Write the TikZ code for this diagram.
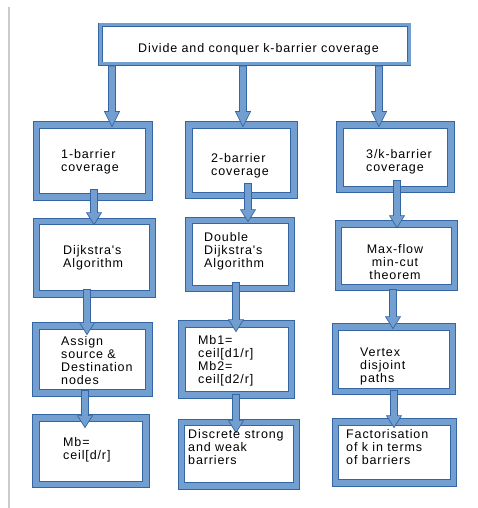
\documentclass[tikz,border=0pt]{standalone}
\usepackage{fontspec}
\setmainfont{Liberation Sans}[LetterSpace=7,Ligatures=TeXOff]
\usetikzlibrary{calc}
\definecolor{framefill}{HTML}{729FCF}
\definecolor{frameline}{HTML}{3465A4}
\newcommand{\barrow}[3][12]{%
  \filldraw[arrowbody] let \p1=#2, \p2=#3 in
    (\x1-3.5pt,\y1) -- (\x1+3.5pt,\y1) -- (\x1+3.5pt,\y2+#1pt) -- (\x1+7.5pt,\y2+#1pt)
    -- (\x1,\y2) -- (\x1-7.5pt,\y2+#1pt) -- (\x1-3.5pt,\y2+#1pt) -- cycle;}
\begin{document}
\begin{tikzpicture}[x=1pt,y=-1pt,
    boxframe/.style={draw=frameline,line width=0.8pt,double=framefill,double distance=5.6pt,fill=white,inner sep=0pt},
    topframe/.style={boxframe,double distance=3pt},
    lbl/.style={anchor=base west,align=left,inner sep=0pt,font=\fontsize{12.5}{13.3}\selectfont},
    arrowbody/.style={fill=framefill,draw=frameline,line width=0.7pt}]

            \useasboundingbox (0,0) rectangle (478,508);
            \draw[black!20, line width=1.2pt] (9,7) -- (9,508);

            \node[topframe,minimum width=308.5pt,minimum height=39pt] (top) at (254.75,44.5) {};

            \node[boxframe,minimum width=112.5pt,minimum height=72pt] (b11) at (92.75,161) {};
            \node[boxframe,minimum width=105pt,minimum height=70.5pt] (b12) at (241.5,160.25) {};
            \node[boxframe,minimum width=111pt,minimum height=64.5pt] (b13) at (395.5,157.25) {};

            \node[boxframe,minimum width=116pt,minimum height=72.5pt] (b21) at (94.5,257.75) {};
            \node[boxframe,minimum width=102.5pt,minimum height=68pt] (b22) at (240.25,254.5) {};
            \node[boxframe,minimum width=116pt,minimum height=63.5pt] (b23) at (396.5,255.75) {};

            \node[boxframe,minimum width=113pt,minimum height=67pt] (b31) at (92.5,359.5) {};
            \node[boxframe,minimum width=109.5pt,minimum height=71pt] (b32) at (236.75,359.5) {};
            \node[boxframe,minimum width=117pt,minimum height=64.5pt] (b33) at (394,359.25) {};

            \node[boxframe,minimum width=110pt,minimum height=66.5pt] (b41) at (91,451.25) {};
            \node[boxframe,minimum width=115pt,minimum height=63.5pt] (b42) at (239,454.25) {};
            \node[boxframe,minimum width=118pt,minimum height=61pt] (b43) at (394.5,452.5) {};

            \barrow[15]{($(top.south)+(-142.75,2)$)}{($(b11.north)+(0,2)$)}
            \barrow[15]{($(top.south)+(-11.75,2)$)}{($(b12.north)+(0,2)$)}
            \barrow[15]{($(top.south)+(124.25,2)$)}{($(b13.north)+(0,2)$)}

            \barrow{($(b11.south)+(1.25,-8)$)}{($(b21.north)+(0,3.5)$)}
            \barrow{($(b21.south)+(-7.5,-5)$)}{($(b31.north)+(0,9)$)}
            \barrow{($(b31.south)+(-7.5,-3)$)}{($(b41.north)+(0,10)$)}

            \barrow{($(b12.south)+(6.5,-12.5)$)}{($(b22.north)+(0,1.5)$)}
            \barrow{($(b22.south)+(-4.25,-6.5)$)}{($(b32.north)+(0,8)$)}
            \barrow{($(b32.south)+(-0.75,-1)$)}{($(b42.north)+(0,10.5)$)}

            \barrow{($(b13.south)+(1.5,-9.5)$)}{($(b23.north)+(0,4)$)}
            \barrow{($(b23.south)+(-3.5,1.5)$)}{($(b33.north)+(0,2)$)}
            \barrow{($(b33.south)+(0,-1.5)$)}{($(b43.north)+(0,6)$)}

            \node[lbl] (t0) at (138,53) {Divide and conquer k-barrier coverage};
            \node[lbl] (t11) at (61,171.8) {1-barrier\\coverage};
            \node[lbl] (t12) at (211,175.3) {2-barrier\\coverage};
            \node[lbl] (t13) at (366,171.8) {3/k-barrier\\coverage};
            \node[lbl] (t21) at (63,267.3) {Dijkstra's\\Algorithm};
            \node[lbl] (t22) at (204,267.6) {Double\\Dijkstra's\\Algorithm};
            \node[lbl,anchor=base,align=center] (t23) at (395,279.6) {Max-flow\\min-cut\\theorem};
            \node[lbl] (t31) at (61,384.9) {Assign\\source \&\\Destination\\nodes};
            \node[lbl] (t32) at (198,383.9) {Mb1=\\ceil[d1/r]\\Mb2=\\ceil[d2/r]};
            \node[lbl] (t33) at (360,382.6) {Vertex\\disjoint\\paths};
            \node[lbl] (t41) at (63,459.3) {Mb=\\ceil[d/r]};
            \node[lbl] (t42) at (188,464.6) {Discrete strong\\and weak\\barriers};
            \node[lbl] (t43) at (346,464.6) {Factorisation\\of k in terms\\of barriers};
        \end{tikzpicture}
\end{document}
